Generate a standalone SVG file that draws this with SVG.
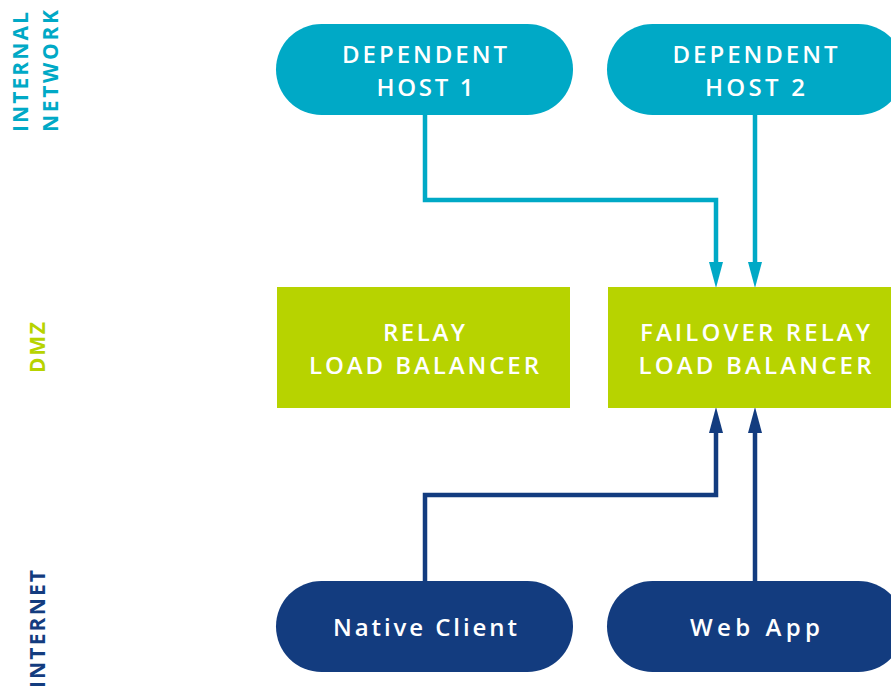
<svg xmlns="http://www.w3.org/2000/svg" width="891" height="688" viewBox="0 0 891 688">
<style>
.t{font-family:"Open Sans","Liberation Sans",sans-serif;font-weight:600;fill:#ffffff;text-anchor:middle}
.n{font-size:24px}
.side{font-family:"Open Sans","Liberation Sans",sans-serif;font-weight:700;font-size:21px}
.cy{fill:#00a9c6}
.lm{fill:#b7d300}
.nv{fill:#133c7f}
.c{fill:none;stroke-width:4.5;stroke-linejoin:miter}
</style>
<defs>
<marker id="ac" markerUnits="userSpaceOnUse" markerWidth="26" markerHeight="14" refX="25" refY="7" orient="auto" viewBox="0 0 26 14">
<path d="M0 0 L26 7 L0 14 Z" fill="#00a9c6"/>
</marker>
<marker id="an" markerUnits="userSpaceOnUse" markerWidth="26" markerHeight="14" refX="25" refY="7" orient="auto" viewBox="0 0 26 14">
<path d="M0 0 L26 7 L0 14 Z" fill="#133c7f"/>
</marker>
</defs>
<rect width="891" height="688" fill="#ffffff"/>
<g id="zone-labels">
<text class="side cy" transform="translate(28,132) rotate(-90)" textLength="120" lengthAdjust="spacing">INTERNAL</text>
<text class="side cy" transform="translate(58,132) rotate(-90)" textLength="122" lengthAdjust="spacing">NETWORK</text>
<text class="side lm" transform="translate(45,373) rotate(-90)" textLength="51" lengthAdjust="spacing">DMZ</text>
<text class="side nv" transform="translate(45,688) rotate(-90)" textLength="118" lengthAdjust="spacing">INTERNET</text>
</g>
<g id="connectors">
<path class="c" stroke="#00a9c6" d="M425 115 V200 H716 V270"/>
<path class="c" stroke="#00a9c6" d="M755 115 V270"/>
<path class="c" stroke="#133c7f" d="M425 581 V495 H716 V425"/>
<path class="c" stroke="#133c7f" d="M755 581 V425"/>
<path d="M716 262 V287" stroke="none" fill="none" marker-end="url(#ac)"/>
<path d="M755 262 V287" stroke="none" fill="none" marker-end="url(#ac)"/>
<path d="M716 433 V408" stroke="none" fill="none" marker-end="url(#an)"/>
<path d="M755 433 V408" stroke="none" fill="none" marker-end="url(#an)"/>
</g>
<g id="dependent-host-1">
<rect x="276" y="24" width="297" height="91" rx="45.5" class="cy"/>
<text class="t n" x="424.5" y="63" textLength="165" lengthAdjust="spacing">DEPENDENT</text>
<text class="t n" x="425" y="96" textLength="97" lengthAdjust="spacing">HOST 1</text>
</g>
<g id="dependent-host-2">
<rect x="607" y="24" width="297" height="91" rx="45.5" class="cy"/>
<text class="t n" x="755" y="63" textLength="165" lengthAdjust="spacing">DEPENDENT</text>
<text class="t n" x="755" y="96" textLength="100" lengthAdjust="spacing">HOST 2</text>
</g>
<g id="relay-load-balancer">
<rect x="277" y="287" width="293" height="121" class="lm"/>
<text class="t n" x="424" y="341" textLength="82" lengthAdjust="spacing">RELAY</text>
<text class="t n" x="424" y="374" textLength="230" lengthAdjust="spacing">LOAD BALANCER</text>
</g>
<g id="failover-relay-load-balancer">
<rect x="608" y="287" width="294" height="121" class="lm"/>
<text class="t n" x="755" y="341" textLength="230" lengthAdjust="spacing">FAILOVER RELAY</text>
<text class="t n" x="755" y="374" textLength="233" lengthAdjust="spacing">LOAD BALANCER</text>
</g>
<g id="native-client">
<rect x="276" y="581" width="297" height="91" rx="45.5" class="nv"/>
<text class="t n" x="425" y="636" textLength="184" lengthAdjust="spacing">Native Client</text>
</g>
<g id="web-app">
<rect x="607" y="581" width="297" height="91" rx="45.5" class="nv"/>
<text class="t n" x="755" y="636" textLength="130" lengthAdjust="spacing">Web App</text>
</g>
</svg>
